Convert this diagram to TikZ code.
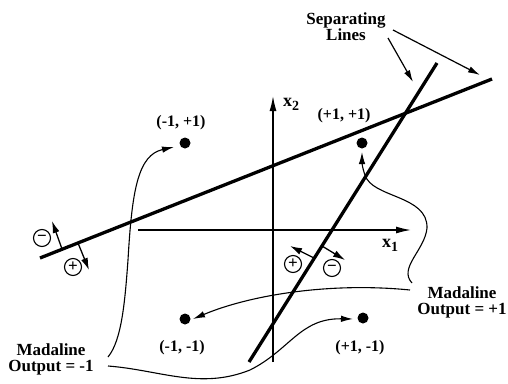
\documentclass[tikz,border=0pt]{standalone}
\usepackage{fontspec}
\setmainfont{Liberation Serif}
\usetikzlibrary{arrows.meta}
\begin{document}
\begin{tikzpicture}[x=1pt,y=-1pt,
  sepline/.style={line width=3.3pt},
  axisline/.style={line width=1.4pt,-{Latex[length=15pt,width=7pt]}},
  curveline/.style={line width=1.1pt},
  arr/.style={-{Latex[length=12pt,width=6.5pt]}},
  normarrow/.style={line width=1.3pt,-{Latex[length=12pt,width=7pt]}},
  dot/.style={circle,fill,inner sep=0pt,minimum size=11pt},
  lbl/.style={font=\bfseries\fontsize{16}{15}\selectfont,inner sep=0pt,align=center},
  biglbl/.style={font=\bfseries\fontsize{17}{16}\selectfont,inner sep=0pt,align=center},
  axlbl/.style={font=\bfseries\fontsize{18}{18}\selectfont,inner sep=0pt},
  sym/.style={circle,draw,line width=1.1pt,inner sep=0pt,minimum size=17pt,font=\bfseries\fontsize{17}{17}\selectfont}
]
\useasboundingbox (0,0) rectangle (508,383);

% separating lines
\coordinate (LA) at (40,258);
\coordinate (LB) at (492,79);
\coordinate (SA) at (437,63);
\coordinate (SB) at (249,362);
\draw[sepline] (LA) -- (LB);
\draw[sepline] (SA) -- (SB);

% axes
\coordinate (X1s) at (138,230);
\coordinate (X1e) at (411,230);
\coordinate (X2s) at (273,362);
\coordinate (X2e) at (273,96);
\draw[axisline] (X1s) -- (X1e);
\draw[axisline] (X2s) -- (X2e);
\node[axlbl] (x1lbl) at (390,245) {x\raisebox{-4pt}{\fontsize{14}{14}\selectfont 1}};
\node[axlbl] (x2lbl) at (291,104) {x\raisebox{-4pt}{\fontsize{14}{14}\selectfont 2}};

% points
\node[dot] (pmp) at (185,143) {};
\node[dot] (ppp) at (362,143) {};
\node[dot] (pmm) at (185,319) {};
\node[dot] (ppm) at (363,318) {};
\node[lbl] (lmp) at (181,123) {(-1, +1)};
\node[lbl] (lpp) at (344,116) {(+1, +1)};
\node[lbl] (lmm) at (182,348) {(-1, -1)};
\node[lbl] (lpm) at (360,348) {(+1, -1)};

% labels
\node[biglbl] (sep) at (346,27) {Separating\\Lines};
\node[biglbl] (mpos) at (462,302) {Madaline\\Output = +1};
\node[biglbl] (mneg) at (51,359) {Madaline\\Output = -1};

% arrows from "Separating Lines"
\coordinate (s1) at (388,38);
\coordinate (s1e) at (413,82);
\coordinate (s2) at (393,30);
\coordinate (s2e) at (480,75);
\draw[line width=1.2pt,arr] (s1) -- (s1e);
\draw[line width=1.2pt,arr] (s2) -- (s2e);

% normal arrows on long line
\coordinate (nA1) at (62,249);
\coordinate (nA1e) at (52,221);
\coordinate (nA2) at (78,243);
\coordinate (nA2e) at (89,270);
\draw[normarrow] (nA1) -- (nA1e);
\draw[normarrow] (nA2) -- (nA2e);
\node[sym] (mA) at (42,238) {−};
\node[sym] (pA) at (73,267) {+};

% normal arrows on steep line
\coordinate (nB1) at (314,258);
\coordinate (nB1e) at (290,246);
\coordinate (nB2) at (322,246);
\coordinate (nB2e) at (345,260);
\draw[normarrow] (nB1) -- (nB1e);
\draw[normarrow] (nB2) -- (nB2e);
\node[sym] (pB) at (293,264) {+};
\node[sym] (mB) at (332,268) {−};

% curves from Madaline Output = -1
\coordinate (cn1) at (108,357);
\coordinate (cn2) at (108,366);
\coordinate (tmp) at (174,147);
\coordinate (tpm) at (353,319);
\draw[curveline,arr] (cn1) .. controls (122,340) and (125,300) .. (128,260)
   .. controls (132,190) and (138,155) .. (tmp);
\draw[curveline,arr] (cn2) .. controls (160,370) and (200,390) .. (250,370)
   .. controls (290,350) and (300,318) .. (tpm);

% curves from Madaline Output = +1
\coordinate (cp1) at (410,290);
\coordinate (cp2) at (412,283);
\coordinate (tmm) at (193,319);
\coordinate (tpp) at (362,152);
\draw[curveline,arr] (cp1) .. controls (330,282) and (250,295) .. (tmm);
\draw[curveline,arr] (cp2) .. controls (398,268) and (425,250) .. (427,228)
   .. controls (428,195) and (372,198) .. (365,175)
   .. controls (362,167) and (362,162) .. (tpp);
\end{tikzpicture}
\end{document}
